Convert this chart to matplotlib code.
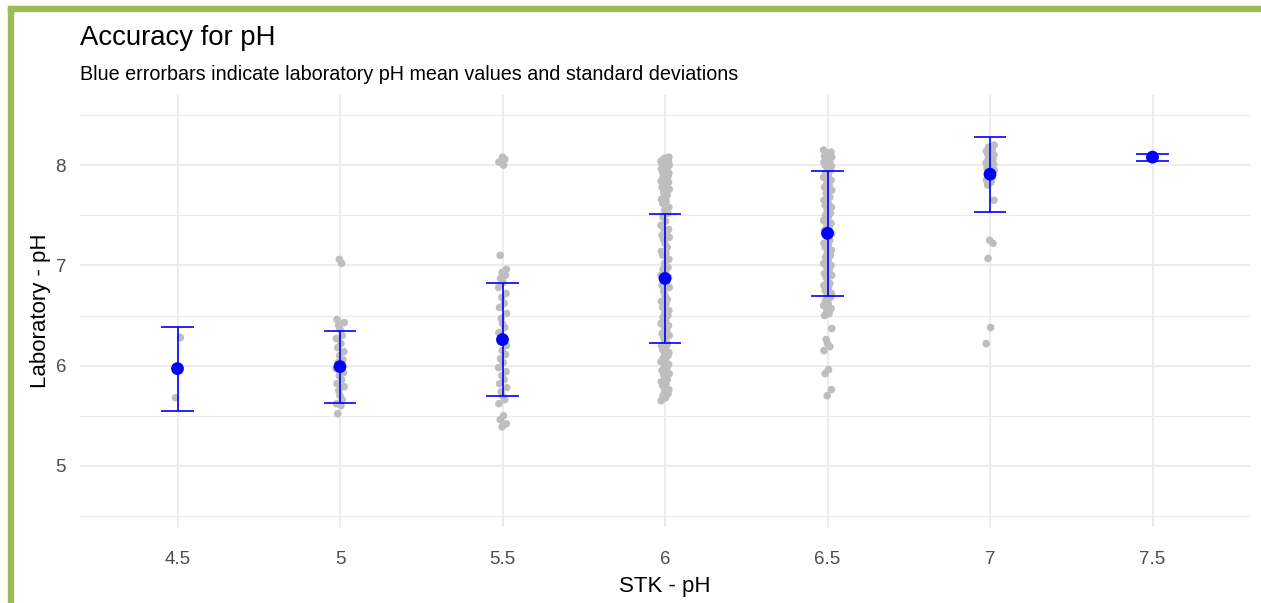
import numpy as np
import matplotlib
matplotlib.use("Agg")
import matplotlib.pyplot as plt
from matplotlib.patches import Rectangle
from matplotlib.ticker import FixedLocator

plt.rcParams['font.family'] = ['Liberation Sans', 'DejaVu Sans']

categories = ["4.5", "5", "5.5", "6", "6.5", "7", "7.5"]

lab_45 = [6.28, 5.68]
lab_50 = [7.06, 7.02, 6.46, 6.43, 6.40, 6.36, 6.30, 6.27, 6.22, 6.18, 6.14, 6.10,
          6.06, 6.03, 6.00, 5.97, 5.93, 5.90, 5.86, 5.82, 5.79, 5.75, 5.70, 5.66,
          5.62, 5.60, 5.52]
lab_55 = [8.08, 8.06, 8.03, 8.00, 7.10, 6.96, 6.93, 6.90, 6.87, 6.83, 6.78, 6.72,
          6.68, 6.62, 6.58, 6.52, 6.47, 6.42, 6.38, 6.33, 6.28, 6.24, 6.20, 6.15,
          6.11, 6.07, 6.03, 5.98, 5.94, 5.90, 5.86, 5.82, 5.78, 5.74, 5.70, 5.66,
          5.62, 5.50, 5.46, 5.42, 5.39]
lab_60 = [8.08, 8.07, 8.06, 8.05, 8.05, 8.04, 8.03, 8.03, 8.02, 8.01, 8.00, 8.00,
          7.98, 7.97, 7.96, 7.94, 7.93, 7.92, 7.90, 7.89, 7.88, 7.86, 7.84, 7.83,
          7.82, 7.80, 7.78, 7.76, 7.73, 7.71, 7.70, 7.66, 7.64, 7.62, 7.58, 7.55,
          7.52, 7.48, 7.44, 7.40, 7.36, 7.35, 7.33, 7.30, 7.28, 7.26, 7.22, 7.18,
          7.14, 7.12, 7.10, 7.06, 7.02, 6.98, 6.96, 6.94, 6.90, 6.88, 6.86, 6.82,
          6.80, 6.78, 6.74, 6.70, 6.66, 6.64, 6.62, 6.58, 6.55, 6.52, 6.50, 6.48,
          6.45, 6.42, 6.40, 6.38, 6.35, 6.32, 6.30, 6.28, 6.25, 6.22, 6.20, 6.19,
          6.16, 6.13, 6.12, 6.10, 6.07, 6.05, 6.04, 6.01, 5.98, 5.97, 5.95, 5.92,
          5.91, 5.89, 5.86, 5.84, 5.82, 5.80, 5.76, 5.74, 5.72, 5.70, 5.68, 5.65]
lab_65 = [8.15, 8.13, 8.12, 8.11, 8.09, 8.08, 8.07, 8.05, 8.04, 8.03, 8.01, 8.00,
          7.99, 7.97, 7.95, 7.92, 7.90, 7.88, 7.85, 7.82, 7.80, 7.78, 7.75, 7.72,
          7.70, 7.68, 7.65, 7.62, 7.60, 7.58, 7.55, 7.52, 7.50, 7.48, 7.45, 7.42,
          7.40, 7.38, 7.35, 7.32, 7.30, 7.28, 7.25, 7.22, 7.20, 7.18, 7.15, 7.12,
          7.10, 7.08, 7.05, 7.02, 7.00, 6.98, 6.95, 6.92, 6.90, 6.88, 6.85, 6.82,
          6.80, 6.78, 6.75, 6.72, 6.70, 6.68, 6.65, 6.62, 6.60, 6.57, 6.55, 6.52,
          6.50, 6.37, 6.26, 6.22, 6.19, 6.15, 5.96, 5.92, 5.76, 5.70]
lab_70 = [8.20, 8.18, 8.16, 8.15, 8.14, 8.12, 8.11, 8.10, 8.08, 8.06, 8.05, 8.04,
          8.02, 8.01, 8.00, 7.98, 7.97, 7.95, 7.92, 7.90, 7.88, 7.85, 7.83, 7.80,
          7.65, 7.25, 7.22, 7.07, 6.38, 6.22]
lab_75 = [8.10, 8.06]

lab_values = [lab_45, lab_50, lab_55, lab_60, lab_65, lab_70, lab_75]

mean_values = [5.97, 5.99, 6.26, 6.87, 7.32, 7.91, 8.08]
sd_values = [0.42, 0.36, 0.565, 0.645, 0.625, 0.375, 0.035]

# fixed horizontal jitter pattern (category units), cycled
jitter_pattern = [0.018, -0.012, 0.004, -0.024, 0.022, -0.004, 0.010, -0.018,
                  0.026, -0.008, 0.0, 0.014, -0.022, 0.006, -0.014, 0.024, -0.002]

W, H = 1261, 603
fig = plt.figure(figsize=(W / 100, H / 100), dpi=100)
ax = fig.add_axes([80 / W, 1 - 527 / H, 1170 / W, 432 / H])

grid_c = '#EBEBEB'
for s in ax.spines.values():
    s.set_visible(False)

ax.set_xlim(-0.6, len(categories) - 1 + 0.6)
ax.set_ylim(4.39, 8.70)
ax.xaxis.set_major_locator(FixedLocator(range(len(categories))))
ax.set_xticklabels(categories)
ax.yaxis.set_major_locator(FixedLocator([5, 6, 7, 8]))
ax.set_yticklabels(["5", "6", "7", "8"])
ax.yaxis.set_minor_locator(FixedLocator([4.5, 5.5, 6.5, 7.5, 8.5]))
ax.grid(True, which='major', color=grid_c, linewidth=1.3)
ax.grid(True, which='minor', axis='y', color=grid_c, linewidth=0.8)
ax.set_axisbelow(True)
ax.tick_params(axis='both', which='both', length=0, labelsize=13.5, labelcolor='#4D4D4D')
ax.tick_params(axis='x', pad=17)
ax.tick_params(axis='y', pad=10)

# jittered gray points
for i, vals in enumerate(lab_values):
    n = len(vals)
    offs = np.array([jitter_pattern[(k + 5 * i) % len(jitter_pattern)] for k in range(n)])
    ax.scatter(i + offs, vals, s=30, color='#BEBEBE', edgecolors='none', zorder=2)

# error bars
for i, (m, sd) in enumerate(zip(mean_values, sd_values)):
    ax.vlines(i, m - sd, m + sd, color='#0000FF', linewidth=1.2, zorder=3)
    ax.hlines([m - sd, m + sd], i - 0.1, i + 0.1, color='#0000FF', linewidth=1.2, zorder=3)
ax.scatter(range(len(categories)), mean_values, s=85, color='#0000FF',
           edgecolors='none', zorder=4)

ax.set_xlabel("STK - pH", fontsize=16, color='black', labelpad=6)
ax.set_ylabel("Laboratory - pH", fontsize=16, color='black', labelpad=3)

fig.text(80 / W, 1 - 45 / H, "Accuracy for pH", fontsize=19.8, color='black',
         ha='left', va='baseline')
fig.text(80 / W, 1 - 80 / H, "Blue errorbars indicate laboratory pH mean values and standard deviations",
         fontsize=14.2, color='black', ha='left', va='baseline')

# green frame (top and left)
green = '#9BBB59'
fig.patches.append(Rectangle((8 / W, 0), 5 / W, 1 - 6 / H, transform=fig.transFigure,
                             color=green, zorder=10))
fig.patches.append(Rectangle((8 / W, 1 - 11 / H), 1 - 8 / W, 5 / H, transform=fig.transFigure,
                             color=green, zorder=10))

fig.savefig("out.png", dpi=100)
